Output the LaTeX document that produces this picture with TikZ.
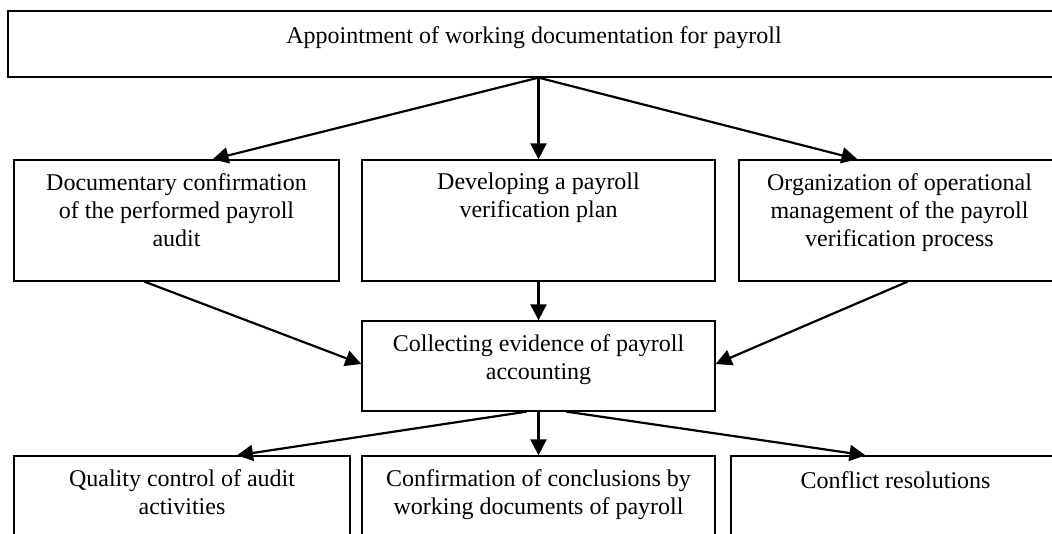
\documentclass[tikz,border=0pt]{standalone}
\usepackage{fontspec}
\setmainfont{Liberation Serif}
\usetikzlibrary{positioning,arrows.meta}
\begin{document}
\begin{tikzpicture}[x=0.5pt, y=-0.5pt,
    box/.style={draw, line width=0.65pt, inner sep=0pt},
    txt/.style={inner sep=0pt, align=center, font=\fontsize{12}{14}\selectfont, execute at begin node=\strut},
    arr/.style={line width=1.1pt, -{Triangle[length=8pt, width=8pt]}}]
    \useasboundingbox (0,0) rectangle (1052,534);
    \node[box, minimum width=526pt, minimum height=33pt] (appt) at (534,44) {};
    \node[box, minimum width=162.5pt, minimum height=60.5pt] (doc) at (176.5,220.5) {};
    \node[box, minimum width=176.5pt, minimum height=60.5pt] (plan) at (538.5,220.5) {};
    \node[box, minimum width=160.5pt, minimum height=60.5pt] (org) at (899.5,220.5) {};
    \node[box, minimum width=176.5pt, minimum height=45pt] (collect) at (538.5,366) {};
    \node[box, minimum width=168pt, minimum height=52pt] (quality) at (182,508) {};
    \node[box, minimum width=176.5pt, minimum height=52pt] (concl) at (538.5,508) {};
    \node[box, minimum width=164.5pt, minimum height=52pt] (conflict) at (895.5,508) {};

    \node[txt, below=6.7pt of appt.north] (appt-t) {Appointment of working documentation for payroll};
    \node[txt, below=6.7pt of doc.north] (doc-t) {Documentary confirmation\\of the performed payroll\\audit};
    \node[txt, below=6.7pt of plan.north] (plan-t) {Developing a payroll\\verification plan};
    \node[txt, below=6.7pt of org.north] (org-t) {Organization of operational\\management of the payroll\\verification process};
    \node[txt, below=6.7pt of collect.north] (collect-t) {Collecting evidence of payroll\\accounting};
    \node[txt, below=6.7pt of quality.north] (quality-t) {Quality control of audit\\activities};
    \node[txt, below=6.7pt of concl.north] (concl-t) {Confirmation of conclusions by\\working documents of payroll};
    \node[txt, below=6.7pt of conflict.north] (conflict-t) {Conflict resolutions};

    \draw[arr] (appt.south -| plan) -- ([xshift=18pt]doc.north);
    \draw[arr] (appt.south -| plan) -- (plan.north);
    \draw[arr] (appt.south -| plan) -- ([xshift=-21pt]org.north);
    \draw[arr] ([xshift=-16pt]doc.south) -- ([yshift=1pt]collect.west);
    \draw[arr] (plan.south) -- (collect.north);
    \draw[arr] ([xshift=4pt]org.south) -- ([yshift=1pt]collect.east);
    \draw[arr] ([xshift=-6pt]collect.south) -- ([xshift=27.5pt]quality.north);
    \draw[arr] (collect.south) -- (concl.north);
    \draw[arr] ([xshift=14pt]collect.south) -- ([xshift=-15pt]conflict.north);
\end{tikzpicture}
\end{document}
